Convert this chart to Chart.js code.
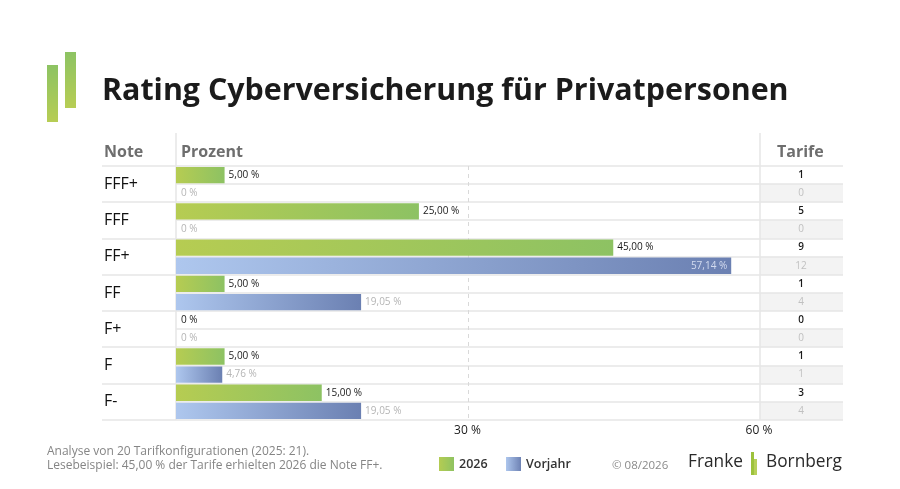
<!DOCTYPE html>
<html>
<head>
<meta charset="utf-8">
<script src="https://cdn.jsdelivr.net/npm/chart.js@4"></script>
<style>
  html, body { margin: 0; padding: 0; background: #fff; }
  #wrap { position: relative; width: 900px; height: 489px; overflow: hidden; font-family: "Open Sans", sans-serif; }
  #wrap canvas { position: absolute; left: 0; top: 0; }
  .t { position: absolute; white-space: nowrap; line-height: 1; }
  .logo { position: absolute; width: 11px; background: linear-gradient(#8dc363, #b7cd54); }
  .sq { position: absolute; width: 15px; height: 14px; }
  .fb { font-size: 19px; color: #2a2a2a; transform: scaleX(0.91); transform-origin: left top; }
</style>
</head>
<body>
<div id="wrap">
  <canvas id="myChart" width="900" height="489"></canvas>

  <div class="logo" style="left:47px;top:65px;height:57px;"></div>
  <div class="logo" style="left:65px;top:52px;height:56px;"></div>
  <div class="t" style="left:102px;top:74px;font-size:30.4px;font-weight:700;color:#1b1b1b;">Rating Cyberversicherung für Privatpersonen</div>

  <div class="t" style="left:104px;top:143px;font-size:16px;font-weight:700;color:#6e6e6e;">Note</div>
  <div class="t" style="left:181px;top:143px;font-size:16px;font-weight:700;color:#6e6e6e;">Prozent</div>
  <div class="t" style="left:777px;top:143px;font-size:16px;font-weight:700;color:#6e6e6e;">Tarife</div>

  <div class="t" style="left:47px;top:445px;font-size:12px;color:#858585;">Analyse von 20 Tarifkonfigurationen (2025: 21).</div>
  <div class="t" style="left:47px;top:459px;font-size:12px;color:#858585;">Lesebeispiel: 45,00 % der Tarife erhielten 2026 die Note FF+.</div>

  <div class="sq" style="left:439px;top:457px;background:linear-gradient(90deg,#b4cc52,#8fc362);"></div>
  <div class="t" style="left:459px;top:458px;font-size:12.5px;font-weight:600;color:#333;">2026</div>
  <div class="sq" style="left:506px;top:457px;background:linear-gradient(90deg,#adc6ed,#6e82b4);"></div>
  <div class="t" style="left:526px;top:458px;font-size:12.5px;font-weight:600;color:#333;">Vorjahr</div>
  <div class="t" style="left:612px;top:459px;font-size:11.5px;color:#8a8a8a;">© 08/2026</div>

  <div class="t fb" style="left:688px;top:451px;">Franke</div>
  <div style="position:absolute;left:751px;top:452px;width:3px;height:23px;background:#9dc23c;"></div>
  <div style="position:absolute;left:754px;top:459px;width:3px;height:16px;background:#b7d05a;"></div>
  <div class="t fb" style="left:766px;top:451px;">Bornberg</div>
</div>

<script>
// Werte aus der Grafik
var notes = ['FFF+', 'FFF', 'FF+', 'FF', 'F+', 'F', 'F-'];
var share2026 = [5, 25, 45, 5, 0, 5, 15];
var sharePrev = [0, 0, 57.14, 19.05, 0, 4.76, 19.05];
var tarife2026 = [1, 5, 9, 1, 0, 1, 3];
var tarifePrev = [0, 0, 12, 4, 0, 1, 4];
var xTicks = [0, 30, 60];

function fmt(v) {
    if (v === 0) return '0 %';
    return v.toFixed(2).replace('.', ',') + ' %';
}

function barFill(from, to) {
    return function(ctx) {
        if (ctx.type !== 'data') return to;
        var chart = ctx.chart;
        var xs = chart.scales.x;
        if (!xs) return to;
        var x0 = xs.getPixelForValue(0);
        var x1 = xs.getPixelForValue(ctx.raw);
        if (!isFinite(x1) || x1 - x0 < 1) return to;
        var g = chart.ctx.createLinearGradient(x0, 0, x1, 0);
        g.addColorStop(0, from);
        g.addColorStop(1, to);
        return g;
    };
}

// Tabellenlinien, Tarife-Spalte und Beschriftungen
var tablePlugin = {
    id: 'table',
    beforeDatasetsDraw: function(chart) {
        var c = chart.ctx, a = chart.chartArea, xs = chart.scales.x;
        var rows = notes.length * 2;
        var h = (a.bottom - a.top) / rows;
        c.save();
        // grauer Hintergrund Vorjahr in Tarife-Spalte
        c.fillStyle = '#f3f3f3';
        for (var i = 0; i < notes.length; i++) {
            var yTop = a.top + (2 * i + 1) * h;
            c.fillRect(a.right + 1, yTop, 843 - a.right - 1, h);
        }
        c.strokeStyle = '#e6e6e6';
        c.lineWidth = 1.5;
        for (var k = 0; k <= rows; k++) {
            var y = Math.round(a.top + k * h);
            c.beginPath();
            c.moveTo(k % 2 === 0 ? 102 : a.left, y);
            c.lineTo(843, y);
            c.stroke();
        }
        c.beginPath();
        c.moveTo(a.left, 133); c.lineTo(a.left, a.bottom);
        c.moveTo(a.right + 1, 133); c.lineTo(a.right + 1, a.bottom);
        c.stroke();
        c.setLineDash([4, 4]);
        c.strokeStyle = '#d9d9d9';
        c.lineWidth = 1;
        var xm = Math.round(xs.getPixelForValue(xTicks[1])) + 0.5;
        c.beginPath();
        c.moveTo(xm, a.top); c.lineTo(xm, a.bottom);
        c.stroke();
        c.restore();
    },
    afterDatasetsDraw: function(chart) {
        var c = chart.ctx, a = chart.chartArea;
        var colX = (a.right + 843) / 2;
        c.save();
        c.textBaseline = 'middle';
        chart.data.datasets.forEach(function(ds, di) {
            var meta = chart.getDatasetMeta(di);
            meta.data.forEach(function(el, i) {
                var v = ds.data[i];
                var txt = fmt(v);
                c.font = '10px "Open Sans"';
                var w = c.measureText(txt).width;
                var end = el.x;
                if (end + 4 + w > a.right - 8) {
                    c.textAlign = 'right';
                    c.fillStyle = di === 0 ? '#ffffff' : '#d3dbef';
                    c.fillText(txt, end - 4, el.y);
                } else {
                    c.textAlign = 'left';
                    c.fillStyle = di === 0 ? '#1a1a1a' : '#b5b5b5';
                    c.fillText(txt, end + (v === 0 ? 5 : 4), el.y);
                }
                var cnt = di === 0 ? tarife2026[i] : tarifePrev[i];
                c.textAlign = 'center';
                c.font = di === 0 ? '600 10px "Open Sans"' : '10px "Open Sans"';
                c.fillStyle = di === 0 ? '#1a1a1a' : '#c0c0c0';
                c.fillText(String(cnt), colX, el.y);
            });
        });
        c.restore();
    }
};

document.addEventListener('DOMContentLoaded', function() {
    const myChart = document.getElementById('myChart');
    var dataChart = new Chart(myChart, {
        type: 'bar',
        plugins: [tablePlugin],
        data: {
            labels: notes,
            datasets: [
                { label: '2026', data: share2026, backgroundColor: barFill('#b6cc52', '#8dc263') },
                { label: 'Vorjahr', data: sharePrev, backgroundColor: barFill('#aec7ee', '#6b80b2') }
            ]
        },
        options: {
            indexAxis: 'y',
            responsive: false,
            animation: false,
            events: [],
            categoryPercentage: 1,
            barPercentage: 0.9,
            layout: { padding: { left: 104, top: 166, right: 141, bottom: 49 } },
            plugins: { legend: { display: false }, tooltip: { enabled: false } },
            scales: {
                x: {
                    min: xTicks[0], max: xTicks[2],
                    afterBuildTicks: function(s) { s.ticks = xTicks.map(function(v) { return { value: v }; }); },
                    afterFit: function(s) { s.height = 20; },
                    grid: { display: false, drawTicks: false },
                    border: { display: false },
                    ticks: {
                        padding: 3,
                        color: '#1a1a1a',
                        font: { family: 'Open Sans', size: 12 },
                        maxRotation: 0,
                        callback: function(v) { return v === 0 ? '' : v + ' %'; }
                    }
                },
                y: {
                    afterFit: function(s) { s.width = 72; },
                    grid: { display: false, drawTicks: false },
                    border: { display: false },
                    ticks: {
                        crossAlign: 'far',
                        color: '#111',
                        font: { family: 'Open Sans', size: 16 }
                    }
                }
            }
        }
    });
});
</script>
</body>
</html>
